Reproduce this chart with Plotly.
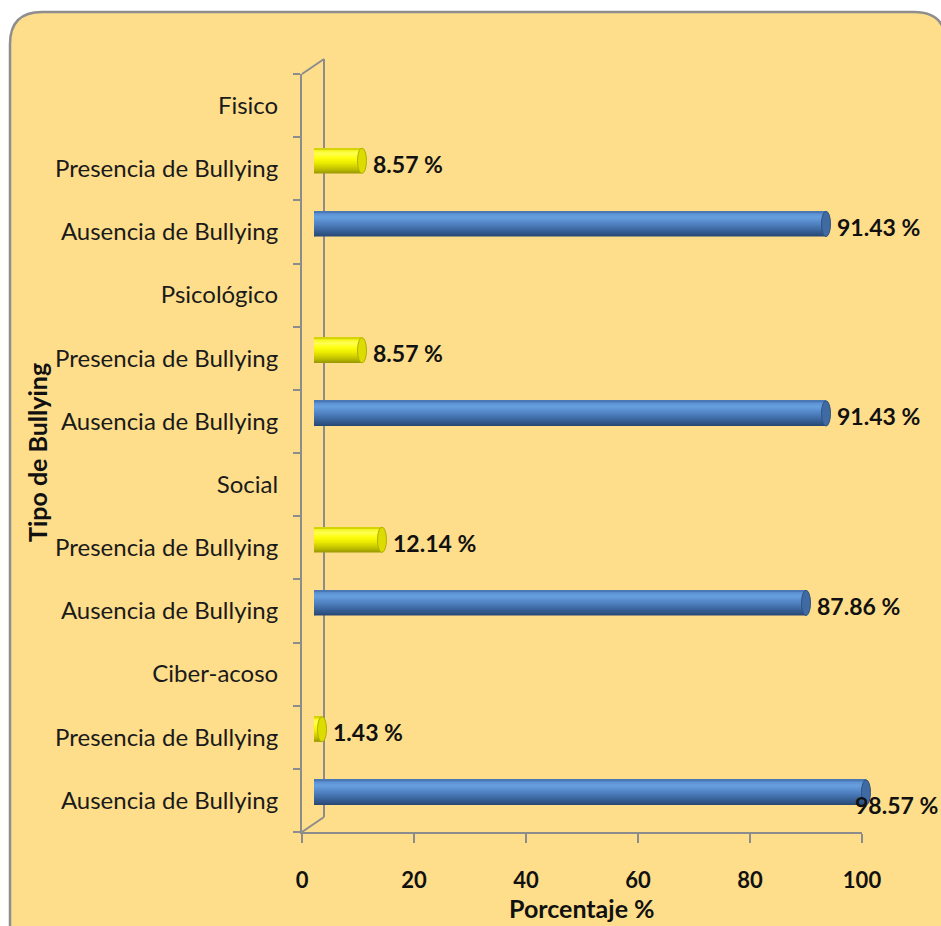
import plotly.graph_objects as go

# ---- data ----
tipos = ["Ciber-acoso", "Social", "Psicológico", "Fisico"]           # bottom -> top
ausencia = [98.57, 87.86, 91.43, 91.43]
presencia = [1.43, 12.14, 8.57, 8.57]
fila_ausencia = "Ausencia de Bullying"
fila_presencia = "Presencia de Bullying"
x_ticks = [0, 20, 40, 60, 80, 100]

# build row labels (bottom -> top) and bar list
row_labels = []
bar_pos, bar_val, bar_kind = [], [], []
for t, a, p in zip(tipos, ausencia, presencia):
    base = len(row_labels)
    row_labels += [fila_ausencia, fila_presencia, t]
    bar_pos += [base, base + 1]
    bar_val += [a, p]
    bar_kind += ["a", "p"]
n_rows = len(row_labels)

# ---- geometry (pixels) ----
W, H = 941, 926
L, R, T, B = 302, 862, 74, 832          # visible axes box
R2, T2 = 910, 50                        # full plotting area (room for 3D shift)
PW, PH = R2 - L, B - T2
def px(xp): return (xp - L) / PW
def py(yp): return (B - yp) / PH
unit_x = (R - L) / 100.0
DX, DY = 12, 8                           # 3D depth shift of bars (px)

BAR_W = 0.40

def hex2rgb(h):
    h = h.lstrip("#")
    return [int(h[i:i + 2], 16) for i in (0, 2, 4)]

def grad(stops, n):
    out = []
    for i in range(n):
        t = (i + 0.5) / n
        for (p0, c0), (p1, c1) in zip(stops[:-1], stops[1:]):
            if p0 <= t <= p1:
                f = (t - p0) / (p1 - p0)
                a, b = hex2rgb(c0), hex2rgb(c1)
                out.append("rgb(%d,%d,%d)" % tuple(round(a[j] + (b[j] - a[j]) * f) for j in range(3)))
                break
    return out

N_STR = 24
blue_grad = grad([(0, "#274670"), (0.15, "#32598C"), (0.4, "#4776B3"),
                  (0.6, "#5A8DCD"), (0.76, "#67A0DE"), (0.9, "#5E93D5"),
                  (1.0, "#4371AC")], N_STR)
yel_grad = grad([(0, "#979700"), (0.18, "#C2C200"), (0.42, "#ECEC00"),
                 (0.62, "#FFFF12"), (0.78, "#FFFF55"), (0.91, "#F6F620"),
                 (1.0, "#CACA00")], N_STR)
sw = BAR_W / N_STR

fig = go.Figure()
# invisible trace to anchor the main (visible) axes
fig.add_trace(go.Scatter(x=bar_val, y=bar_pos, mode="markers",
                         marker=dict(opacity=0), showlegend=False,
                         hoverinfo="skip", xaxis="x", yaxis="y"))
for i in range(N_STR):
    cols = [blue_grad[i] if k == "a" else yel_grad[i] for k in bar_kind]
    fig.add_trace(go.Bar(
        x=bar_val, y=bar_pos, orientation="h",
        width=BAR_W - i * sw, offset=-BAR_W / 2 + i * sw,
        marker=dict(color=cols, line=dict(width=0)),
        xaxis="x2", yaxis="y2", showlegend=False, hoverinfo="skip"))

shapes = []
# rounded chart frame
r = 32
x0, y0, x1, y1 = 10, 12, 946, 990
path = (f"M {px(x0)},{py(y0 + r)} Q {px(x0)},{py(y0)} {px(x0 + r)},{py(y0)} "
        f"L {px(x1 - r)},{py(y0)} Q {px(x1)},{py(y0)} {px(x1)},{py(y0 + r)} "
        f"L {px(x1)},{py(y1)} L {px(x0)},{py(y1)} Z")
shapes.append(dict(type="path", xref="paper", yref="paper", path=path,
                   fillcolor="#FEDE8B", line=dict(color="#8E8E8E", width=2.5),
                   layer="below"))
# 3D back wall
gray = "#8C8C8C"
bx, by = 22, 15
for (ax0, ay0, ax1, ay1) in [(L + bx, B - by, L + bx, T - by),
                             (L, T, L + bx, T - by),
                             (L, B, L + bx, B - by)]:
    shapes.append(dict(type="line", xref="paper", yref="paper",
                       x0=px(ax0), y0=py(ay0), x1=px(ax1), y1=py(ay1),
                       line=dict(color=gray, width=2), layer="below"))

# cylinder caps
cap_rx = 4.5 / unit_x
for pos, v, k in zip(bar_pos, bar_val, bar_kind):
    mid = "#4F81BD" if k == "a" else "#EEEE00"
    capc = "#3F6AA2" if k == "a" else "#DCDC00"
    capl = "#2E5283" if k == "a" else "#B0B000"
    shapes.append(dict(type="circle", xref="x2", yref="y2",
                       x0=-cap_rx, x1=cap_rx, y0=pos - BAR_W / 2, y1=pos + BAR_W / 2,
                       fillcolor=mid, line=dict(width=0), layer="below"))
    shapes.append(dict(type="circle", xref="x2", yref="y2",
                       x0=v - cap_rx, x1=v + cap_rx, y0=pos - BAR_W / 2, y1=pos + BAR_W / 2,
                       fillcolor=capc, line=dict(color=capl, width=1)))

FS_VAL = 23
annotations = []
for pos, v in zip(bar_pos, bar_val):
    over = v > 95
    annotations.append(dict(
        x=v, y=pos, xref="x2", yref="y2", text=f"{v:.2f} %", showarrow=False,
        xanchor="left", yanchor="middle",
        xshift=-13 if over else 9, yshift=-13 if over else -3,
        font=dict(family="Lato", size=FS_VAL, color="#111111", weight="bold")))
annotations.append(dict(x=px((L + R) / 2), y=py(908), xref="paper", yref="paper",
                        text="Porcentaje %", showarrow=False,
                        xanchor="center", yanchor="middle",
                        font=dict(family="Lato", size=25, color="#111111", weight="bold")))
annotations.append(dict(x=px(37), y=py((T + B) / 2), xref="paper", yref="paper",
                        text="Tipo de Bullying", showarrow=False, textangle=-90,
                        xanchor="center", yanchor="middle",
                        font=dict(family="Lato", size=25, color="#111111", weight="bold")))

fig.update_layout(
    width=W, height=H, autosize=False,
    margin=dict(l=L, r=W - R2, t=T2, b=H - B, pad=0),
    paper_bgcolor="white", plot_bgcolor="rgba(0,0,0,0)",
    barmode="overlay", showlegend=False,
    shapes=shapes, annotations=annotations,
    xaxis=dict(domain=[0, (R - L) / PW], anchor="y",
               range=[0, 100], tickvals=x_ticks, ticks="outside", ticklen=9,
               tickwidth=2, tickcolor=gray, showline=True, linecolor=gray,
               linewidth=2, showgrid=False, zeroline=False,
               ticklabelstandoff=19,
               tickfont=dict(family="Lato", size=22, color="#111111", weight="bold")),
    yaxis=dict(domain=[0, (B - T) / PH], anchor="x",
               range=[-0.5, n_rows - 0.5], tickmode="array",
               tickvals=list(range(n_rows)), ticktext=row_labels, ticks="",
               showline=True, linecolor=gray, linewidth=2, showgrid=False,
               zeroline=False, ticklabelstandoff=17,
               tickfont=dict(family="Lato", size=24, color="#1A1A1A"),
               minor=dict(tickmode="array",
                          tickvals=[i - 0.5 for i in range(n_rows + 1)],
                          ticks="outside", ticklen=7, tickwidth=2,
                          tickcolor=gray, showgrid=False)),
    xaxis2=dict(domain=[DX / PW, (R - L + DX) / PW], anchor="y2",
                range=[0, 100], visible=False),
    yaxis2=dict(domain=[DY / PH, (B - T + DY) / PH], anchor="x2",
                range=[-0.5, n_rows - 0.5], visible=False),
)

fig.write_html("out.html")
